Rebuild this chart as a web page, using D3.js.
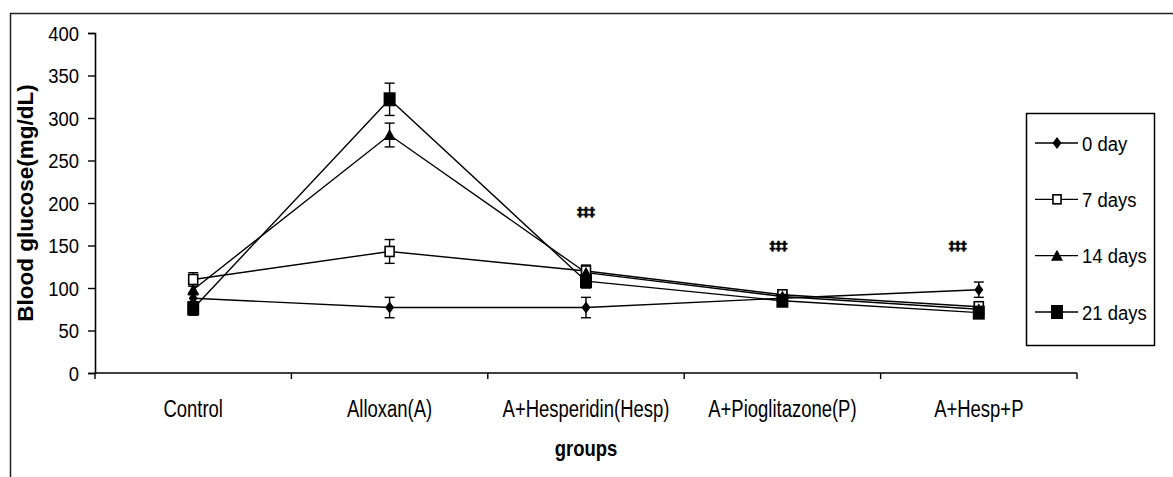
<!DOCTYPE html>
<html lang="en">
<head>
    <meta charset="UTF-8">
    <title>Blood glucose</title>
    <script src="https://d3js.org/d3.v7.min.js"></script>
    <style>
        body { margin: 0; background: #fff; }
        text { font-family: "Liberation Sans", Arial, sans-serif; fill: #000; }
    </style>
</head>
<body>
    <div class="canvas"></div>
    <script>
        const width = 1173
        const height = 477

        // data
        const groups = ['Control', 'Alloxan(A)', 'A+Hesperidin(Hesp)', 'A+Pioglitazone(P)', 'A+Hesp+P']
        const seriesNames = ['0 day', '7 days', '14 days', '21 days']
        const day0 = [88, 77, 77, 88, 98]
        const day7 = [110, 143, 120, 92, 78]
        const day14 = [98, 280, 118, 90, 75]
        const day21 = [76, 322, 108, 85, 71]
        const err0 = [6, 12, 12, 5, 9]
        const err7 = [8, 14, 7, 5, 5]
        const err14 = [6, 14, 6, 4, 5]
        const err21 = [8, 19, 8, 5, 6]
        const yTicks = [0, 50, 100, 150, 200, 250, 300, 350, 400]
        // significance marks (group, level)
        const marks = [['A+Hesperidin(Hesp)', 190], ['A+Pioglitazone(P)', 150], ['A+Hesp+P', 150]]

        const series = [
            { name: seriesNames[0], values: day0, err: err0, shape: 'diamond' },
            { name: seriesNames[1], values: day7, err: err7, shape: 'openSquare' },
            { name: seriesNames[2], values: day14, err: err14, shape: 'triangle' },
            { name: seriesNames[3], values: day21, err: err21, shape: 'square' }
        ]

        // margins
        let [mt, mb, ml, mr] = [33, 104, 95, 96]

        const svg = d3.select('.canvas')
                    .append('svg')
                    .attr('width', width)
                    .attr('height', height)

        // outer frame
        svg.append('rect')
            .attr('x', 10.5).attr('y', 13.5)
            .attr('width', 1300).attr('height', 600)
            .attr('fill', 'none')
            .attr('stroke', '#222')
            .attr('stroke-width', 1.5)

        const x = d3.scaleBand()
                    .domain(groups)
                    .range([ml, width - mr])
        const cx = g => x(g) + x.bandwidth() / 2

        const y = d3.scaleLinear()
                    .domain([0, 400])
                    .range([height - mb, mt])

        // the picture's text is squeezed sideways
        function label(parent, tx, ty, txt, size, anchor, weight, sx) {
            return parent.append('text')
                .attr('transform', `translate(${tx},${ty}) scale(${sx || 0.88},1)`)
                .attr('text-anchor', anchor || 'middle')
                .style('font-size', size + 'px')
                .style('font-weight', weight || 'normal')
                .text(txt)
        }

        // y axis
        const yAxisG = svg.append('g').attr('transform', `translate(${ml},0)`)
        yAxisG.call(d3.axisLeft(y).tickValues(yTicks).tickSize(7).tickFormat(''))
        yAxisG.select('.domain').attr('stroke', '#000').attr('stroke-width', 1.6)
        yAxisG.selectAll('.tick line').attr('stroke-width', 1.4)
        yTicks.forEach(t => label(svg, ml - 16, y(t) + 7.5, t, 21, 'end'))

        // x axis, ticks at band edges
        const xAxisG = svg.append('g').attr('transform', `translate(0,${y(0)})`)
        xAxisG.append('line')
            .attr('x1', ml).attr('x2', width - mr)
            .attr('stroke', '#000').attr('stroke-width', 1.6)
        const edges = groups.map(g => x(g)).concat([x(groups[groups.length - 1]) + x.bandwidth()])
        xAxisG.selectAll('.edge')
            .data(edges)
            .enter()
            .append('line')
            .attr('x1', d => d).attr('x2', d => d)
            .attr('y1', 0).attr('y2', 6)
            .attr('stroke', '#000').attr('stroke-width', 1.4)
        groups.forEach(g => label(svg, cx(g), 417, g, 24, 'middle', 'normal', 0.77))

        // axis titles
        label(svg, (ml + width - mr) / 2, 456, 'groups', 22, 'middle', 'bold', 0.84)
        svg.append('text')
            .attr('transform', `translate(33,${y(200)}) rotate(-90)`)
            .attr('text-anchor', 'middle')
            .style('font-size', '22.5px')
            .style('font-weight', 'bold')
            .text('Blood glucose(mg/dL)')

        // marker drawing
        function marker(parent, shape, px, py, s) {
            s = s || 1
            if (shape === 'diamond') {
                parent.append('path')
                    .attr('d', `M${px},${py - 6 * s}L${px + 4.5 * s},${py}L${px},${py + 6 * s}L${px - 4.5 * s},${py}Z`)
                    .attr('fill', '#000')
            } else if (shape === 'openSquare') {
                parent.append('rect')
                    .attr('x', px - 4.5 * s).attr('y', py - 5 * s)
                    .attr('width', 9 * s).attr('height', 10 * s)
                    .attr('fill', '#fff').attr('stroke', '#000').attr('stroke-width', 1.6)
            } else if (shape === 'triangle') {
                parent.append('path')
                    .attr('d', `M${px},${py - 6 * s}L${px + 6 * s},${py + 5 * s}L${px - 6 * s},${py + 5 * s}Z`)
                    .attr('fill', '#000')
            } else {
                parent.append('rect')
                    .attr('x', px - 6 * s).attr('y', py - 7 * s)
                    .attr('width', 12 * s).attr('height', 14 * s)
                    .attr('fill', '#000')
            }
        }

        const line = d3.line()
                        .x((d, i) => cx(groups[i]))
                        .y(d => y(d))

        const plot = svg.append('g')
        series.forEach(s => {
            plot.append('path')
                .attr('d', line(s.values))
                .attr('fill', 'none')
                .attr('stroke', '#000')
                .attr('stroke-width', 1.4)
        })
        series.forEach(s => {
            s.values.forEach((v, i) => {
                const px = cx(groups[i])
                const eb = plot.append('g').attr('stroke', '#000').attr('stroke-width', 1.4)
                eb.append('line').attr('x1', px).attr('x2', px).attr('y1', y(v + s.err[i])).attr('y2', y(v - s.err[i]))
                eb.append('line').attr('x1', px - 5).attr('x2', px + 5).attr('y1', y(v + s.err[i])).attr('y2', y(v + s.err[i]))
                eb.append('line').attr('x1', px - 5).attr('x2', px + 5).attr('y1', y(v - s.err[i])).attr('y2', y(v - s.err[i]))
            })
        })
        series.forEach(s => {
            s.values.forEach((v, i) => marker(plot, s.shape, cx(groups[i]), y(v)))
        })

        // significance marks
        const markOffset = { 'A+Hesperidin(Hesp)': 0, 'A+Pioglitazone(P)': -4, 'A+Hesp+P': -21 }
        marks.forEach(m => {
            label(svg, cx(m[0]) + markOffset[m[0]], y(m[1]) + 4, '\u2021\u2021\u2021', 12, 'middle', 'bold', 1)
                .style('font-family', '"DejaVu Sans", sans-serif')
                .attr('stroke', '#000').attr('stroke-width', 0.4)
        })

        // legend
        const legend = svg.append('g')
        legend.append('rect')
            .attr('x', 1026.5).attr('y', 113.5)
            .attr('width', 128).attr('height', 232)
            .attr('fill', '#fff').attr('stroke', '#000').attr('stroke-width', 1.5)
        const ly = d3.scalePoint().domain(seriesNames).range([143, 312])
        series.forEach(s => {
            const yy = ly(s.name)
            legend.append('line')
                .attr('x1', 1035).attr('x2', 1078)
                .attr('y1', yy).attr('y2', yy)
                .attr('stroke', '#000').attr('stroke-width', 1.4)
            marker(legend, s.shape, 1057, yy, s.shape === 'openSquare' ? 0.9 : 1)
            label(legend, 1082, yy + 7.5, s.name, 21, 'start')
        })
    </script>
</body>
</html>
